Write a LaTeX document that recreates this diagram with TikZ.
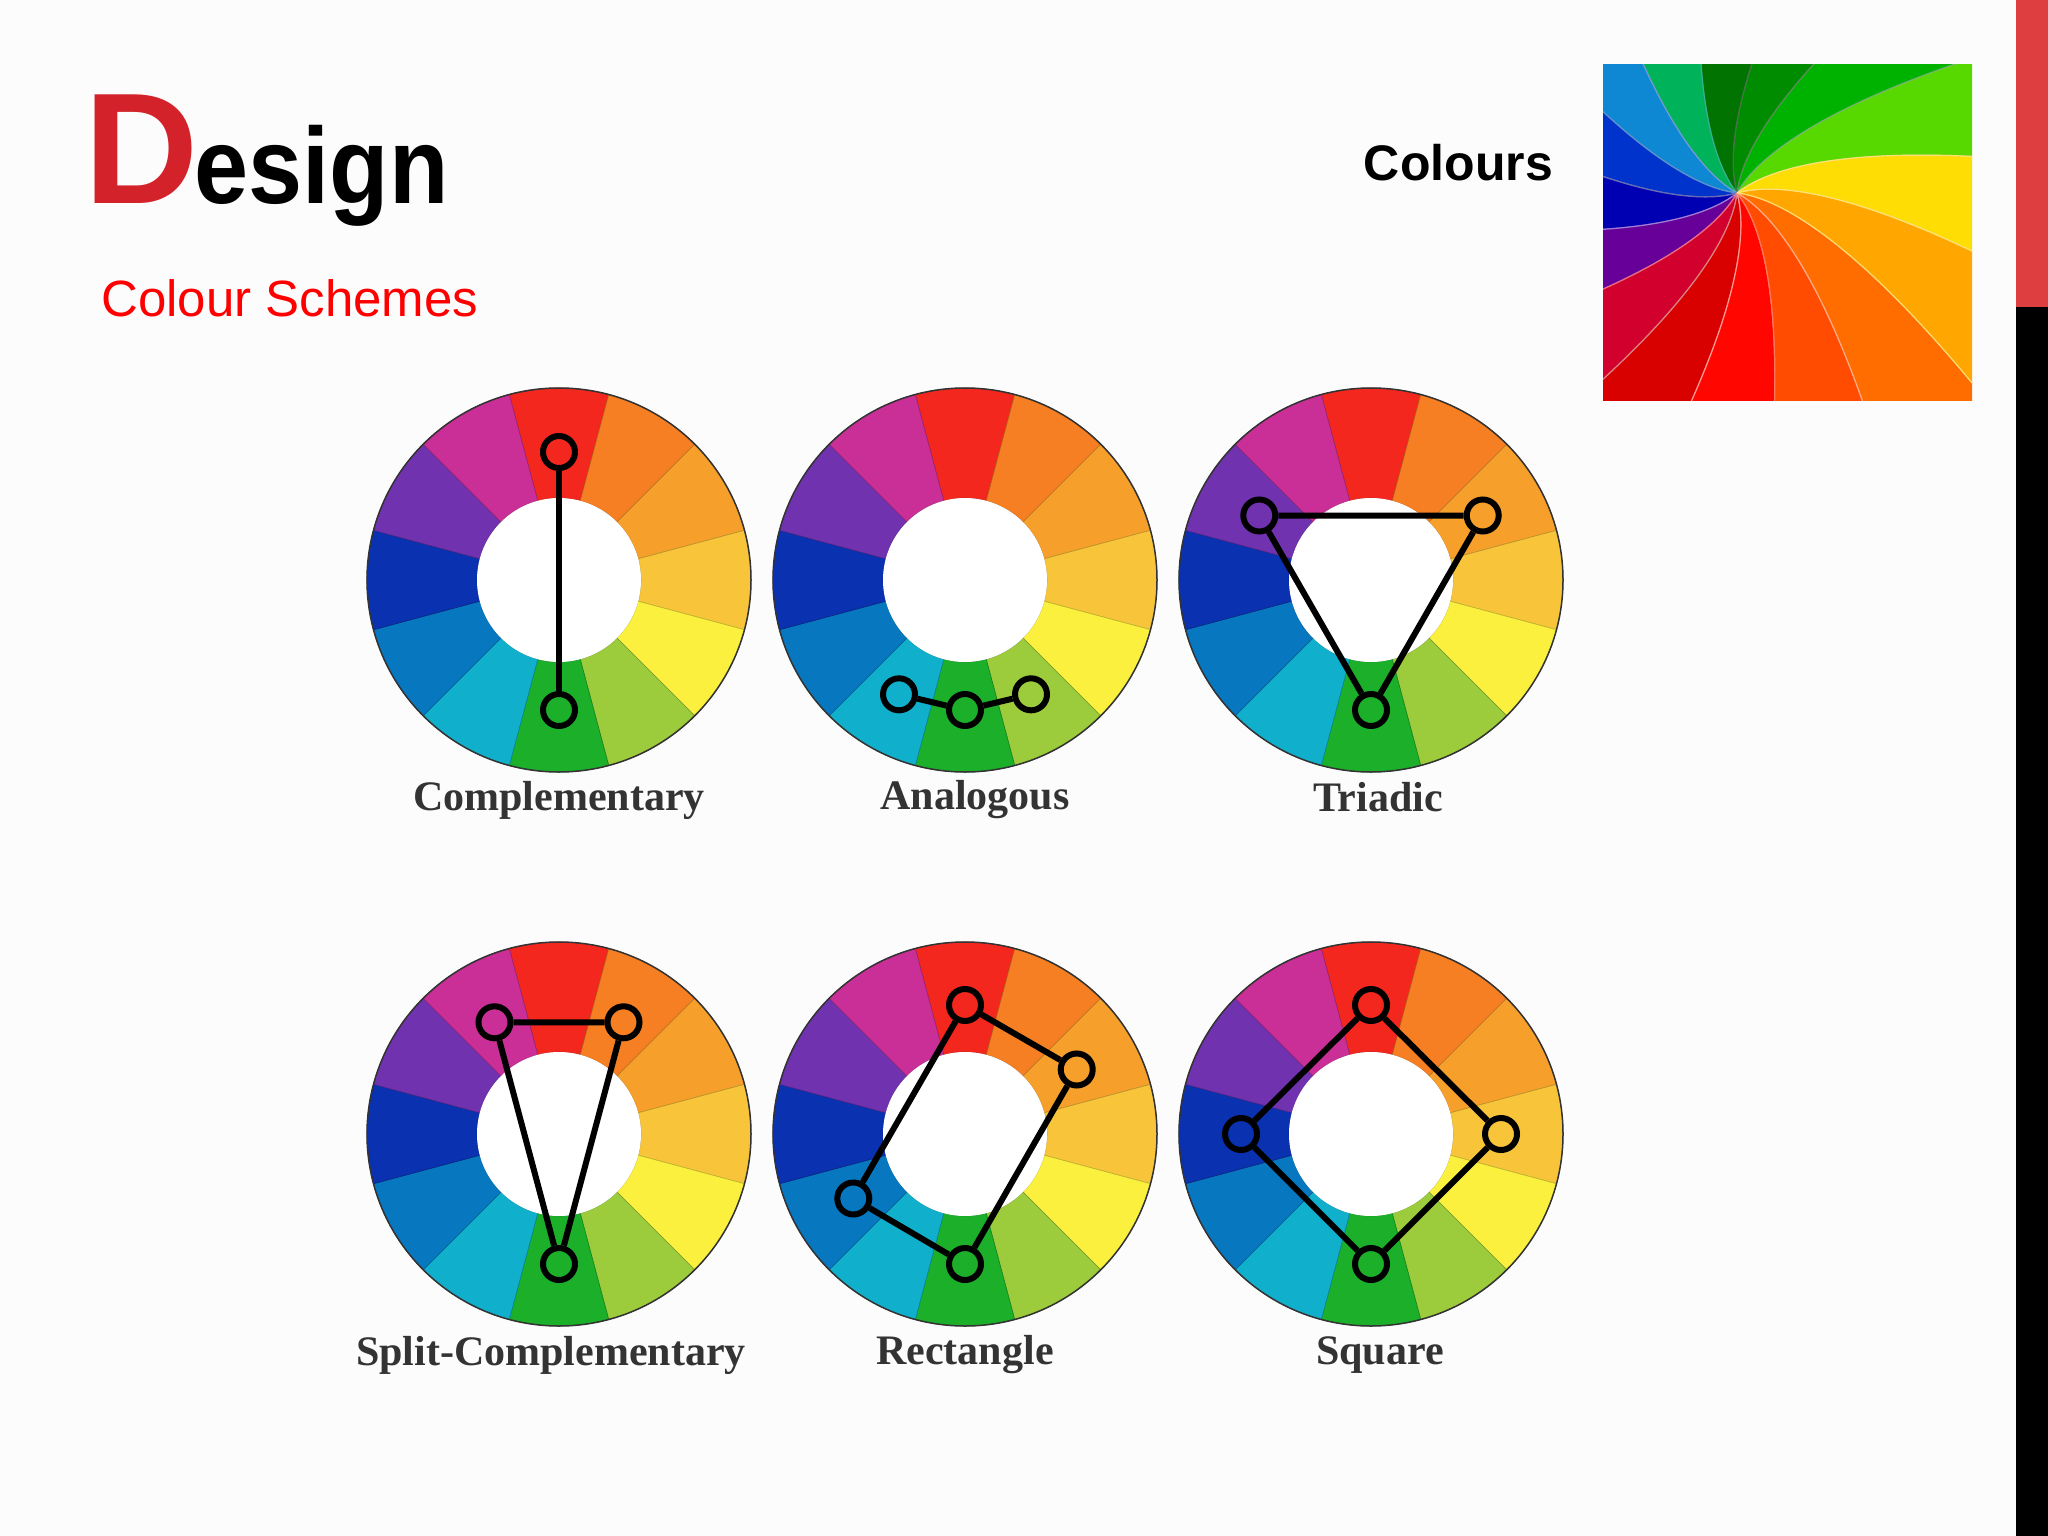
\documentclass[tikz,border=0pt]{standalone}
\usepackage{fontspec}
\setmainfont{Liberation Serif}
\setsansfont{Liberation Sans}
\usetikzlibrary{calc}
\begin{document}
\begin{tikzpicture}[x=1pt,y=1pt,
  dot/.style={circle,draw=black,line width=6pt,minimum size=32pt,inner sep=0pt},
  link/.style={line width=6pt,black},
  wlabel/.style={font=\bfseries\fontsize{42}{48}\selectfont, text=black!80}]
\definecolor{bg}{HTML}{FDFCFD}
\definecolor{c0}{HTML}{F4271F}\definecolor{c1}{HTML}{F57F22}\definecolor{c2}{HTML}{F6A02B}
\definecolor{c3}{HTML}{F8C53A}\definecolor{c4}{HTML}{FBF03E}\definecolor{c5}{HTML}{9CCB3B}
\definecolor{c6}{HTML}{1BAF2A}\definecolor{c7}{HTML}{10B0CD}\definecolor{c8}{HTML}{0778C0}
\definecolor{c9}{HTML}{0A31B0}\definecolor{c10}{HTML}{7132B0}\definecolor{c11}{HTML}{C92F96}
\definecolor{dred}{HTML}{D3222A}\definecolor{bar}{HTML}{DE3E40}
\fill[bg] (0,0) rectangle (2048,-1536);
\useasboundingbox (0,0) rectangle (2048,-1536);
% side bars
\fill[bar] (2016,0) rectangle (2048,-307);
\fill[black] (2016,-307) rectangle (2048,-1536);
% titles
\node[anchor=base west,inner sep=0,text=dred,font=\sffamily\bfseries\fontsize{158}{158}\selectfont] (D) at (84,-203) {D};
\node[anchor=base west,inner sep=0,font=\sffamily\bfseries\fontsize{108}{108}\selectfont,xscale=0.9,transform shape] (esign) at ($(D.base east)+(-4,0)$) {esign};
\node[anchor=base west,inner sep=0,text=red,font=\sffamily\fontsize{51}{51}\selectfont] (cs) at (101,-316) {Colour Schemes};
\node[anchor=base east,inner sep=0,font=\sffamily\bfseries\fontsize{50}{50}\selectfont] (col) at (1553,-180) {Colours};
% swirl picture
\begin{scope}
\clip (1603,-65) rectangle (1972,-400);
\fill[c6] (1603,-65) rectangle (1972,-400);
\begin{scope}[shift={(1737,-193)}]
\foreach \a/\c in {0/green!60!yellow!85!black,22.5/green!70!black,45/green!55!black,67.5/green!45!black,90/green!50!cyan!70!black,112.5/cyan!70!blue,135/blue!75!cyan!80!black,157.5/blue!70!black,180/violet!80!blue,202.5/purple!70!red,225/red!85!black,247.5/red!95!orange,270/orange!60!red,292.5/orange!85!red,315/orange!70!yellow,337.5/yellow!80!orange}{
  \fill[\c,draw=white!60!\c,line width=1.2pt,rotate=\a]
    (0,0) .. controls (50,40) and (200,60) .. (520,0)
    -- (480.4,199) .. controls (161.8,131.9) and (30.9,56.1) .. (0,0);
}
\end{scope}
\end{scope}
% wheels
\foreach \n/\cx/\cy in {w1/559/-580,w2/965/-580,w3/1371/-580,w4/559/-1134,w5/965/-1134,w6/1371/-1134}{
  \begin{scope}[shift={(\cx,\cy)}]
  \foreach \k in {0,...,11}{
    \pgfmathsetmacro{\sa}{90-30*\k+15}\pgfmathsetmacro{\ea}{90-30*\k-15}
    \fill[c\k,draw=black!25!c\k,line width=0.6pt] (\sa:82) -- (\sa:192) arc[start angle=\sa,end angle=\ea,radius=192] -- (\ea:82) arc[start angle=\ea,end angle=\sa,radius=82] -- cycle;
  }
  \draw[black!80,line width=1.5pt] (0,0) circle[radius=192];
  \fill[white] (0,0) circle[radius=82];
  \coordinate (\n) at (0,0);
  \end{scope}
}
% complementary
\node[dot] (a1) at ($(w1)+(90:128)$) {};
\node[dot] (a2) at ($(w1)+(270:130)$) {};
\draw[link] (a1) -- (a2);
% analogous
\node[dot] (b1) at ($(w2)+(240:132)$) {};
\node[dot] (b2) at ($(w2)+(270:130)$) {};
\node[dot] (b3) at ($(w2)+(300:132)$) {};
\draw[link] (b1) -- (b2) -- (b3);
% triadic
\node[dot] (t1) at ($(w3)+(150:129)$) {};
\node[dot] (t2) at ($(w3)+(30:129)$) {};
\node[dot] (t3) at ($(w3)+(270:130)$) {};
\draw[link] (t1) -- (t2) -- (t3) -- (t1);
% split complementary
\node[dot] (s1) at ($(w4)+(120:129)$) {};
\node[dot] (s2) at ($(w4)+(60:129)$) {};
\node[dot] (s3) at ($(w4)+(270:130)$) {};
\draw[link] (s1) -- (s2) -- (s3) -- (s1);
% rectangle
\node[dot] (r1) at ($(w5)+(90:129)$) {};
\node[dot] (r2) at ($(w5)+(30:129)$) {};
\node[dot] (r3) at ($(w5)+(270:130)$) {};
\node[dot] (r4) at ($(w5)+(210:129)$) {};
\draw[link] (r1) -- (r2) -- (r3) -- (r4) -- (r1);
% square
\node[dot] (q1) at ($(w6)+(90:129)$) {};
\node[dot] (q2) at ($(w6)+(0:130)$) {};
\node[dot] (q3) at ($(w6)+(270:130)$) {};
\node[dot] (q4) at ($(w6)+(180:130)$) {};
\draw[link] (q1) -- (q2) -- (q3) -- (q4) -- (q1);
% labels
\node[wlabel] (l1) at (559,-800) {Complementary};
\node[wlabel] (l2) at (975,-800) {Analogous};
\node[wlabel] (l3) at (1378,-797) {Triadic};
\node[wlabel] (l4) at (551,-1355) {Split-Complementary};
\node[wlabel] (l5) at (965,-1355) {Rectangle};
\node[wlabel] (l6) at (1380,-1355) {Square};
\end{tikzpicture}
\end{document}
